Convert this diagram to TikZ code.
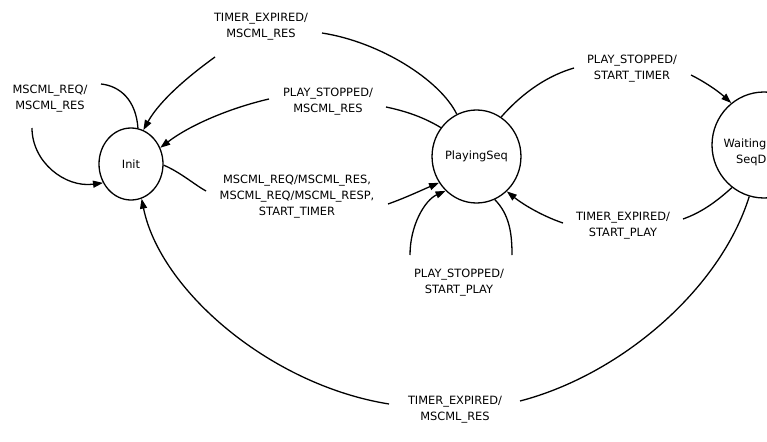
\documentclass[tikz,border=0pt]{standalone}
\usepackage{fontspec}
\setmainfont{DejaVu Sans}
\usetikzlibrary{arrows.meta,shapes.geometric}

\begin{document}
\begin{tikzpicture}[x=1pt, y=-1pt, line width=1.3pt, font=\fontsize{11.4}{16}\selectfont, >={Triangle[length=10pt,width=7pt]}]
\tikzstyle{state} = [ellipse, draw = black, inner sep=0pt]
\tikzstyle{trans} = [align=center, inner sep=0pt]
\useasboundingbox (0,0) rectangle (767,441);
\clip (0,0) rectangle (767,441);

% states
\node (init) [state, minimum width=64pt, minimum height=72pt] at (131,164) {Init};
\node (playing) [state, minimum width=85pt, minimum height=93pt] at (476.5,156.5) {PlayingSeq};
\node (waiting) [state, minimum width=104pt, minimum height=106pt] at (764,145) {};
\node (waitingname) [align=right, anchor=east, inner sep=0pt] at (767,152) {Waiting\\SeqD};

% transition labels
\node (reqres) [trans] at (50,99) {MSCML\_REQ/\\MSCML\_RES};
\node (expiredtop) [trans] at (261,27) {TIMER\_EXPIRED/\\MSCML\_RES};
\node (stoppedres) [trans] at (328,102) {PLAY\_STOPPED/\\MSCML\_RES};
\node (reqtimer) [trans] at (297,197) {MSCML\_REQ/MSCML\_RES,\\MSCML\_REQ/MSCML\_RESP,\\START\_TIMER};
\node (stoppedplay) [trans] at (459,283) {PLAY\_STOPPED/\\START\_PLAY};
\node (stoppedtimer) [trans] at (632,69) {PLAY\_STOPPED/\\START\_TIMER};
\node (expiredplay) [trans] at (623,226) {TIMER\_EXPIRED/\\START\_PLAY};
\node (expiredbot) [trans] at (455,410) {TIMER\_EXPIRED/\\MSCML\_RES};

% ends of the lines at the labels
\coordinate (a1) at (101,84);   \coordinate (a2) at (32,128);
\coordinate (b1) at (322,33);   \coordinate (b2) at (215,57);
\coordinate (c1) at (386,107);  \coordinate (c2) at (269,99);
\coordinate (d1) at (206,191);  \coordinate (d2) at (388,204);
\coordinate (e1) at (512,255);  \coordinate (e2) at (410,255);
\coordinate (f1) at (574,68);   \coordinate (f2) at (691,75);
\coordinate (g1) at (683,219);  \coordinate (g2) at (563,223);
\coordinate (h1) at (520,401);  \coordinate (h2) at (389,404);

% transitions
\draw (init.79) .. controls (136,100) and (120,86) .. (a1);
\draw [->] (a2) .. controls (32,162) and (65,188) .. (init.214);
\draw (playing.115) .. controls (440,80) and (380,42) .. (b1);
\draw [->] (b2) .. controls (190,75) and (160,100) .. (init.70);
\draw (playing.141) .. controls (420,115) and (400,110) .. (c1);
\draw [->] (c2) .. controls (230,108) and (190,125) .. (init.29);
\draw (init.-2) .. controls (180,172) and (195,185) .. (d1);
\draw [->] (d2) .. controls (405,198) and (422,190) .. (playing.215);
\draw (playing.-67) .. controls (510,215) and (512,235) .. (e1);
\draw [->] (e2) .. controls (410,225) and (425,200) .. (playing.228);
\draw (playing.58) .. controls (525,90) and (550,75) .. (f1);
\draw [->] (f2) .. controls (705,82) and (718,91) .. (waiting.128);
\draw (waiting.233) .. controls (715,203) and (700,213) .. (g1);
\draw [->] (g2) .. controls (545,217) and (525,206) .. (playing.-49);
\draw (waiting.254) .. controls (720,290) and (620,375) .. (h1);
\draw [->] (h2) .. controls (270,385) and (160,290) .. (init.287);
\end{tikzpicture}
\end{document}
